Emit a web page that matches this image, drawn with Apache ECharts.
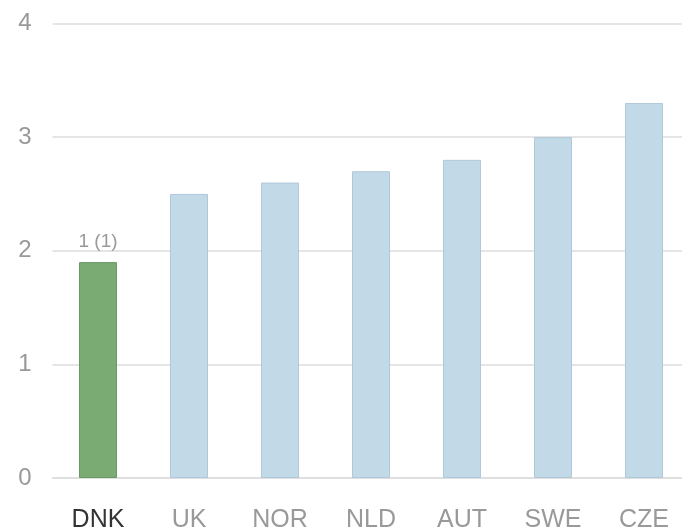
<!DOCTYPE html>
<html>
<head>
<meta charset="utf-8">
<script src="https://cdn.jsdelivr.net/npm/echarts@6/dist/echarts.min.js"></script>
<style>html,body{margin:0;padding:0;background:#fff;overflow:hidden}#c{width:682px;height:528px}</style>
</head>
<body>
<div id="c"></div>
<script>
var categories = ["DNK", "UK", "NOR", "NLD", "AUT", "SWE", "CZE"];
var values = [1.9, 2.5, 2.6, 2.7, 2.8, 3.0, 3.3];
var highlightIndex = 0;
var highlightLabel = "1 (1)";
var yTicks = [0, 1, 2, 3, 4];

var chart = echarts.init(document.getElementById('c'), null, {renderer: 'canvas'});
var data = values.map(function (v, i) {
  var hl = i === highlightIndex;
  return {
    value: v,
    itemStyle: hl ? {color: '#7aab72', borderColor: '#6a9a63', borderWidth: 1}
                  : {color: '#c2dae7', borderColor: '#b0c9d8', borderWidth: 1},
    label: hl ? {show: true, formatter: highlightLabel, position: 'top', distance: 11,
                 color: '#999', fontSize: 19, fontFamily: 'Liberation Sans'} : {show: false}
  };
});
chart.setOption({
  animation: false,
  grid: {left: 52.5, width: 637, top: 23.5, height: 454.5, containLabel: false, outerBoundsMode: 'none'},
  xAxis: {
    type: 'category',
    data: categories,
    axisLine: {show: true, lineStyle: {color: '#ddd', width: 1.5}},
    axisTick: {show: false},
    axisLabel: {
      margin: 30,
      fontSize: 25,
      fontFamily: 'Liberation Sans',
      color: function (v, i) { return i === highlightIndex ? '#333' : '#999'; }
    }
  },
  yAxis: {
    type: 'value',
    min: yTicks[0],
    max: yTicks[yTicks.length - 1],
    interval: 1,
    axisLine: {show: false},
    axisTick: {show: false},
    splitLine: {lineStyle: {color: '#ddd', width: 1.5}},
    axisLabel: {margin: 21, fontSize: 24, fontFamily: 'Liberation Sans', color: '#999', padding: [6, 0, 0, 0]}
  },
  series: [{
    type: 'bar',
    data: data,
    barWidth: 38
  }]
});
</script>
</body>
</html>
